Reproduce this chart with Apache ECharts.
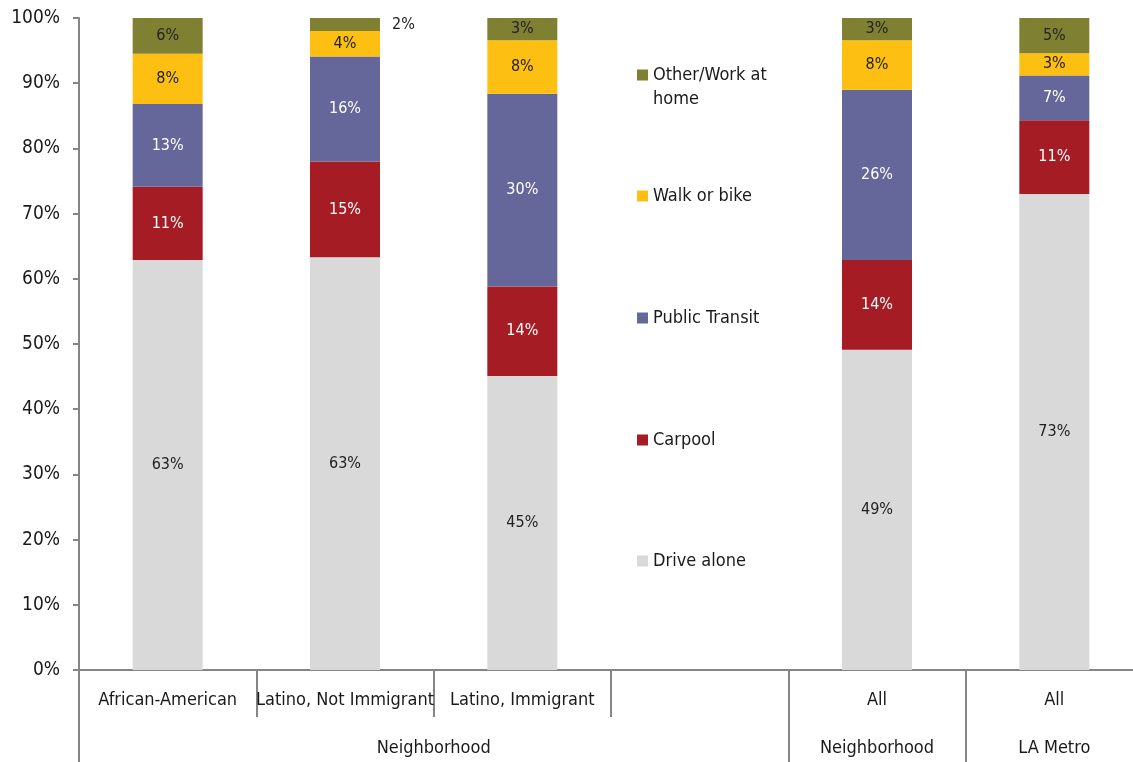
<!DOCTYPE html>
<html><head><meta charset="utf-8">
<script src="https://cdn.jsdelivr.net/npm/echarts@6/dist/echarts.min.js"></script>
<style>html,body{margin:0;padding:0;background:#fff}#c{width:1133px;height:762px}</style>
</head><body><div id="c"></div>
<script>
const categories = ['African-American','Latino, Not Immigrant','Latino, Immigrant','','All','All'];
const groupLabels = ['','','','','Neighborhood','','','','','Neighborhood','','LA Metro',''];
const groupBoundaries = [0,8,10,12];
const seriesNames = ['Drive alone','Carpool','Public Transit','Walk or bike','Other/Work at home'];
const driveAlone   = [62.9, 63.3, 45.1, null, 49.1, 73.0];
const carpool      = [11.2, 14.7, 13.7, null, 13.8, 11.3];
const publicTransit= [12.7, 16.1, 29.6, null, 26.1, 6.9];
const walkOrBike   = [7.7, 3.9, 8.2, null, 7.6, 3.4];
const otherHome    = [5.5, 2.0, 3.4, null, 3.4, 5.4];
const yTicks = [0,10,20,30,40,50,60,70,80,90,100];

const FONT = '"Liberation Sans Narrow","DejaVu Sans Condensed","Roboto Condensed",sans-serif';
const colors = ['#D9D9D9','#A51C24','#65679A','#FCBF12','#808033'];
const labelColors = ['#222','#fff','#fff','#222','#222'];
const values = [driveAlone, carpool, publicTransit, walkOrBike, otherHome];
const axisGrey = '#858585';

const series = seriesNames.map((n,i)=>({
  name:n, type:'bar', stack:'total', barWidth:70, xAxisIndex:0,
  itemStyle:{color:colors[i]},
  label:{show:true, position:'inside', color:labelColors[i], fontFamily:FONT, fontSize:16,
    formatter:p=>Math.round(p.value)+'%'},
  data: values[i].map((v,j)=> (i===4 && j===1) ? {value:v, label:{position:'right', distance:12, color:'#222'}} : v)
}));

const legendTops = {'Other/Work at home':39,'Walk or bike':184,'Public Transit':306,'Carpool':428,'Drive alone':549};
const legends = seriesNames.slice().reverse().map(n=>({
  data:[n], orient:'vertical', left:637, top:legendTops[n], padding:0,
  icon:'rect', itemWidth:11, itemHeight:11, itemGap:6,
  textStyle:{fontFamily:FONT, fontSize:18, color:'#1a1a1a', lineHeight:24},
  formatter: name => name==='Other/Work at home' ? '\nOther/Work at\nhome' : name,
  selectedMode:false
}));

const chart = echarts.init(document.getElementById('c'), null, {renderer:'canvas'});
chart.setOption({
  animation:false,
  grid:{left:79, right:-10, top:18, bottom:92, containLabel:false, outerBoundsMode:'none'},
  legend: legends,
  xAxis:[{
    type:'category', data:categories, position:'bottom',
    axisLine:{show:true, lineStyle:{color:axisGrey, width:2}},
    axisTick:{show:true, length:47, lineStyle:{color:axisGrey, width:2}},
    axisLabel:{interval:0, margin:21, fontFamily:FONT, fontSize:18, color:'#1a1a1a'}
  },{
    type:'category', data:groupLabels, position:'bottom', boundaryGap:false,
    axisLine:{show:false},
    axisTick:{show:true, length:95, interval:(idx)=>groupBoundaries.includes(idx), lineStyle:{color:axisGrey, width:2}},
    axisLabel:{interval:0, margin:69, fontFamily:FONT, fontSize:18, color:'#1a1a1a'}
  }],
  yAxis:{
    type:'value', min:0, max:100, interval:10,
    splitLine:{show:false},
    axisLine:{show:true, lineStyle:{color:axisGrey, width:2}},
    axisTick:{show:true, length:6, lineStyle:{color:axisGrey, width:2}},
    axisLabel:{margin:19, fontFamily:FONT, fontSize:19, color:'#1a1a1a', padding:[4,0,0,0], formatter:v=>yTicks.includes(v)? v+'%':''}
  },
  series: series
});
</script></body></html>
